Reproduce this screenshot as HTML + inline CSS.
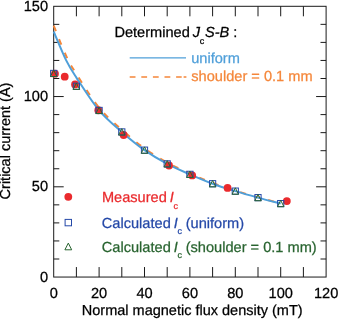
<!DOCTYPE html><html><head><meta charset="utf-8"><title>chart</title><style>html,body{margin:0;padding:0;background:#fff}svg{display:block;will-change:transform;opacity:0.999}text{font-family:"Liberation Sans",Arial,Helvetica,sans-serif;text-rendering:geometricPrecision}</style></head><body>
<svg width="338" height="319" viewBox="0 0 338 319">
<rect width="338" height="319" fill="#fff"/>
<g stroke="#1a1a1a" stroke-width="1" fill="none" stroke-linecap="butt">
<rect x="53.70" y="6.30" width="272.40" height="270.75"/>
<path d="M76.40 277.05V267.05 M76.40 6.30V16.30"/>
<path d="M99.10 277.05V267.05 M99.10 6.30V16.30"/>
<path d="M121.80 277.05V267.05 M121.80 6.30V16.30"/>
<path d="M144.50 277.05V267.05 M144.50 6.30V16.30"/>
<path d="M167.20 277.05V267.05 M167.20 6.30V16.30"/>
<path d="M189.90 277.05V267.05 M189.90 6.30V16.30"/>
<path d="M212.60 277.05V267.05 M212.60 6.30V16.30"/>
<path d="M235.30 277.05V267.05 M235.30 6.30V16.30"/>
<path d="M258.00 277.05V267.05 M258.00 6.30V16.30"/>
<path d="M280.70 277.05V267.05 M280.70 6.30V16.30"/>
<path d="M303.40 277.05V267.05 M303.40 6.30V16.30"/>
<path d="M53.70 259.00H59.30 M326.10 259.00H320.50"/>
<path d="M53.70 240.95H59.30 M326.10 240.95H320.50"/>
<path d="M53.70 222.90H59.30 M326.10 222.90H320.50"/>
<path d="M53.70 204.85H59.30 M326.10 204.85H320.50"/>
<path d="M53.70 186.80H63.70 M326.10 186.80H316.10"/>
<path d="M53.70 168.75H59.30 M326.10 168.75H320.50"/>
<path d="M53.70 150.70H59.30 M326.10 150.70H320.50"/>
<path d="M53.70 132.65H59.30 M326.10 132.65H320.50"/>
<path d="M53.70 114.60H59.30 M326.10 114.60H320.50"/>
<path d="M53.70 96.55H63.70 M326.10 96.55H316.10"/>
<path d="M53.70 78.50H59.30 M326.10 78.50H320.50"/>
<path d="M53.70 60.45H59.30 M326.10 60.45H320.50"/>
<path d="M53.70 42.40H59.30 M326.10 42.40H320.50"/>
<path d="M53.70 24.35H59.30 M326.10 24.35H320.50"/>
</g>
<path d="M53.70 25.61 C55.76 30.64 62.29 47.69 66.07 55.76 C69.85 63.82 70.90 65.32 76.40 73.99 C81.90 82.65 91.53 98.45 99.10 107.74 C106.67 117.04 114.23 122.98 121.80 129.76 C129.37 136.55 136.93 142.98 144.50 148.44 C152.07 153.90 159.63 158.37 167.20 162.52 C174.77 166.67 182.33 169.94 189.90 173.35 C197.47 176.77 205.03 180.14 212.60 183.01 C220.17 185.88 227.73 188.21 235.30 190.59 C242.87 192.97 250.43 195.13 258.00 197.27 C265.57 199.40 276.92 202.38 280.70 203.41" fill="none" stroke="#f5873a" stroke-width="2" stroke-dasharray="6 8.5"/>
<path d="M53.70 31.57 C55.76 36.32 62.29 52.42 66.07 60.09 C69.85 67.76 70.90 69.20 76.40 77.60 C81.90 85.99 91.53 101.39 99.10 110.45 C106.67 119.50 114.23 125.31 121.80 131.93 C129.37 138.55 136.93 144.83 144.50 150.16 C152.07 155.48 159.63 159.85 167.20 163.88 C174.77 167.91 182.33 171.04 189.90 174.35 C197.47 177.65 205.03 180.93 212.60 183.73 C220.17 186.53 227.73 188.82 235.30 191.13 C242.87 193.45 250.43 195.55 258.00 197.63 C265.57 199.71 276.92 202.59 280.70 203.59" fill="none" stroke="#4f9fd9" stroke-width="2"/>
<circle cx="54.95" cy="73.63" r="3.9" fill="#ea2a2d"/>
<circle cx="64.71" cy="76.69" r="3.9" fill="#ea2a2d"/>
<circle cx="75.04" cy="84.46" r="3.9" fill="#ea2a2d"/>
<circle cx="98.31" cy="110.27" r="3.9" fill="#ea2a2d"/>
<circle cx="123.62" cy="135.00" r="3.9" fill="#ea2a2d"/>
<circle cx="169.02" cy="165.50" r="3.9" fill="#ea2a2d"/>
<circle cx="192.17" cy="175.43" r="3.9" fill="#ea2a2d"/>
<circle cx="227.58" cy="187.88" r="3.9" fill="#ea2a2d"/>
<circle cx="286.83" cy="201.06" r="3.9" fill="#ea2a2d"/>
<rect x="50.60" y="70.35" width="6.2" height="6.2" fill="none" stroke="#2549a8" stroke-width="1"/>
<rect x="73.30" y="83.16" width="6.2" height="6.2" fill="none" stroke="#2549a8" stroke-width="1"/>
<rect x="96.00" y="107.35" width="6.2" height="6.2" fill="none" stroke="#2549a8" stroke-width="1"/>
<rect x="118.70" y="128.83" width="6.2" height="6.2" fill="none" stroke="#2549a8" stroke-width="1"/>
<rect x="141.40" y="147.06" width="6.2" height="6.2" fill="none" stroke="#2549a8" stroke-width="1"/>
<rect x="164.10" y="160.78" width="6.2" height="6.2" fill="none" stroke="#2549a8" stroke-width="1"/>
<rect x="186.80" y="171.25" width="6.2" height="6.2" fill="none" stroke="#2549a8" stroke-width="1"/>
<rect x="209.50" y="180.63" width="6.2" height="6.2" fill="none" stroke="#2549a8" stroke-width="1"/>
<rect x="232.20" y="188.03" width="6.2" height="6.2" fill="none" stroke="#2549a8" stroke-width="1"/>
<rect x="254.90" y="194.53" width="6.2" height="6.2" fill="none" stroke="#2549a8" stroke-width="1"/>
<rect x="277.60" y="200.49" width="6.2" height="6.2" fill="none" stroke="#2549a8" stroke-width="1"/>
<path d="M50.50 76.55L53.70 70.15L56.90 76.55Z" fill="none" stroke="#296430" stroke-width="1"/>
<path d="M73.20 89.36L76.40 82.96L79.60 89.36Z" fill="none" stroke="#296430" stroke-width="1"/>
<path d="M95.90 113.55L99.10 107.15L102.30 113.55Z" fill="none" stroke="#296430" stroke-width="1"/>
<path d="M118.60 135.03L121.80 128.63L125.00 135.03Z" fill="none" stroke="#296430" stroke-width="1"/>
<path d="M141.30 153.26L144.50 146.86L147.70 153.26Z" fill="none" stroke="#296430" stroke-width="1"/>
<path d="M164.00 166.98L167.20 160.58L170.40 166.98Z" fill="none" stroke="#296430" stroke-width="1"/>
<path d="M186.70 177.45L189.90 171.05L193.10 177.45Z" fill="none" stroke="#296430" stroke-width="1"/>
<path d="M209.40 186.83L212.60 180.43L215.80 186.83Z" fill="none" stroke="#296430" stroke-width="1"/>
<path d="M232.10 194.23L235.30 187.83L238.50 194.23Z" fill="none" stroke="#296430" stroke-width="1"/>
<path d="M254.80 200.73L258.00 194.33L261.20 200.73Z" fill="none" stroke="#296430" stroke-width="1"/>
<path d="M277.50 206.69L280.70 200.29L283.90 206.69Z" fill="none" stroke="#296430" stroke-width="1"/>
<path d="M129.7 57.8H186" stroke="#4f9fd9" stroke-width="1.3"/>
<path d="M129.7 77H135.5M141.3 77H147.1M152.9 77H158.7M164.5 77H170.3M176.1 77H181.7M183.6 77H186.4" stroke="#f5873a" stroke-width="1.6"/>
<text x="114.4" y="37.1" font-size="14.6" fill="#000" stroke="#000" stroke-width="0.25">Determined <tspan font-style="italic" dx="-1.16">J</tspan><tspan font-size="9" dy="6.9" dx="-0.2">c</tspan><tspan dy="-6.9" dx="0.6" font-style="italic">S-B</tspan> :</text>
<text x="191.2" y="62.5" font-size="14.6" fill="#4f9fd9" stroke="#4f9fd9" stroke-width="0.25">uniform</text>
<text x="191.3" y="81.25" font-size="14.6" fill="#f5873a" stroke="#f5873a" stroke-width="0.25">shoulder = 0.1 mm</text>
<circle cx="68.3" cy="196.8" r="3.9" fill="#ea2a2d"/>
<rect x="65.1" y="219.4" width="6.4" height="6.4" fill="none" stroke="#2549a8"/>
<path d="M64.9 249.8L68.3 243.1L71.7 249.8Z" fill="none" stroke="#296430"/>
<text x="101.9" y="201.8" font-size="14.6" fill="#ea2a2d" stroke="#ea2a2d" stroke-width="0.25">Measured <tspan font-style="italic" dx="-1.16">I</tspan><tspan font-size="9" dy="7.4" dx="-0.3">c</tspan></text>
<text x="101.8" y="227.6" font-size="14.6" fill="#2549a8" stroke="#2549a8" stroke-width="0.25">Calculated <tspan font-style="italic" dx="-1.16">I</tspan><tspan font-size="9" dy="6.7" dx="-0.3">c</tspan><tspan dy="-6.7" dx="-0.3" font-size="14.6"> (uniform)</tspan></text>
<text x="101.8" y="251.6" font-size="14.6" fill="#296430" stroke="#296430" stroke-width="0.25">Calculated <tspan font-style="italic" dx="-1.16">I</tspan><tspan font-size="9" dy="6.7" dx="-0.3">c</tspan><tspan dy="-6.7" dx="-0.3" font-size="14.6"> (shoulder = 0.1 mm)</tspan></text>
<text x="53.70" y="298" font-size="14.6" text-anchor="middle" fill="#000" stroke="#000" stroke-width="0.25">0</text>
<text x="99.10" y="298" font-size="14.6" text-anchor="middle" fill="#000" stroke="#000" stroke-width="0.25">20</text>
<text x="144.50" y="298" font-size="14.6" text-anchor="middle" fill="#000" stroke="#000" stroke-width="0.25">40</text>
<text x="189.90" y="298" font-size="14.6" text-anchor="middle" fill="#000" stroke="#000" stroke-width="0.25">60</text>
<text x="235.30" y="298" font-size="14.6" text-anchor="middle" fill="#000" stroke="#000" stroke-width="0.25">80</text>
<text x="280.70" y="298" font-size="14.6" text-anchor="middle" fill="#000" stroke="#000" stroke-width="0.25">100</text>
<text x="326.10" y="298" font-size="14.6" text-anchor="middle" fill="#000" stroke="#000" stroke-width="0.25">120</text>
<text x="48.1" y="281.50" font-size="14.6" text-anchor="end" fill="#000" stroke="#000" stroke-width="0.25">0</text>
<text x="48.1" y="191.25" font-size="14.6" text-anchor="end" fill="#000" stroke="#000" stroke-width="0.25">50</text>
<text x="48.1" y="101.00" font-size="14.6" text-anchor="end" fill="#000" stroke="#000" stroke-width="0.25">100</text>
<text x="48.1" y="10.75" font-size="14.6" text-anchor="end" fill="#000" stroke="#000" stroke-width="0.25">150</text>
<text x="192.2" y="314.7" font-size="14.5" text-anchor="middle" fill="#000" stroke="#000" stroke-width="0.25">Normal magnetic flux density (mT)</text>
<text transform="translate(10.1 141) rotate(-90)" font-size="14.5" text-anchor="middle" fill="#000" stroke="#000" stroke-width="0.25">Critical current (A)</text>
</svg></body></html>
